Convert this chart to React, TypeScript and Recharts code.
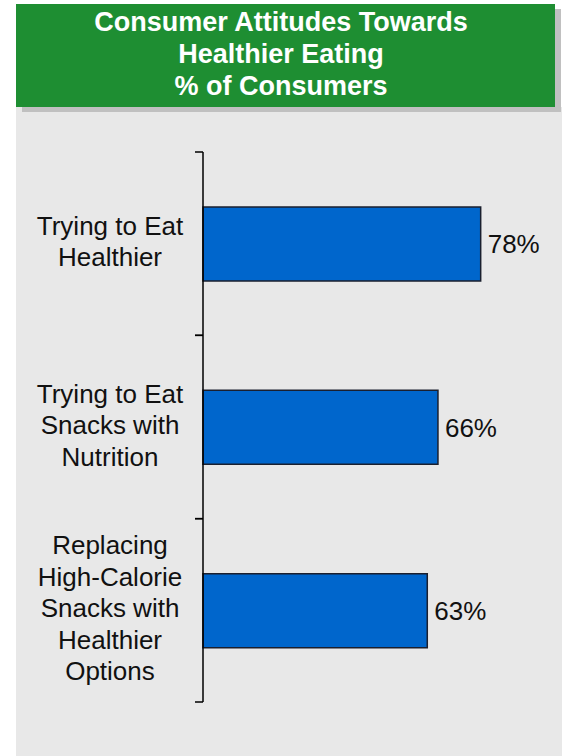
import { Bar, BarChart, LabelList, XAxis, YAxis } from "recharts";

const categories = [
  "Trying to Eat\nHealthier",
  "Trying to Eat\nSnacks with\nNutrition",
  "Replacing\nHigh-Calorie\nSnacks with\nHealthier\nOptions",
];
const shares = [78, 66, 63];
const titleLines = ["Consumer Attitudes Towards", "Healthier Eating", "% of Consumers"];

const data = categories.map((name, i) => ({ name, value: shares[i] }));

const PAGE_W = 562;
const PAGE_H = 756;
const MARGIN = { top: 152, right: 3, bottom: 54, left: 0 };
const AXIS_WIDTH = 203;
const AXIS_X = MARGIN.left + AXIS_WIDTH;
const PLOT_H = PAGE_H - MARGIN.top - MARGIN.bottom;
const BAND_HALF = PLOT_H / categories.length / 2;
const TICK_LEN = 8;
const LABEL_X = 110;
const LINE_H = 31.5;
const FONT = "'Liberation Sans', Arial, sans-serif";
const BAR_COLOR = "#0066cc";

function CategoryTick({ y, payload }: { y: number; payload: { value: string } }) {
  const lines = String(payload.value).split("\n");
  const firstDy = -((lines.length - 1) / 2) * LINE_H + 7;
  return (
    <g>
      <line x1={AXIS_X - TICK_LEN} x2={AXIS_X} y1={y - BAND_HALF} y2={y - BAND_HALF} stroke="#000" strokeWidth={1.5} />
      <line x1={AXIS_X - TICK_LEN} x2={AXIS_X} y1={y + BAND_HALF} y2={y + BAND_HALF} stroke="#000" strokeWidth={1.5} />
      <text x={LABEL_X} y={y} textAnchor="middle" fontSize={26} fill="#111" fontFamily={FONT}>
        {lines.map((line, i) => (
          <tspan key={i} x={LABEL_X} dy={i === 0 ? firstDy : LINE_H}>
            {line}
          </tspan>
        ))}
      </text>
    </g>
  );
}

export default function App() {
  return (
    <div style={{ position: "absolute", left: 0, top: 0, width: PAGE_W, height: PAGE_H, background: "#fff", overflow: "hidden" }}>
      <div style={{ position: "absolute", left: 16, top: 107, width: PAGE_W - 16, height: PAGE_H - 107, background: "#e8e8e8" }} />
      <div
        style={{
          position: "absolute",
          left: 16,
          top: 4,
          width: 539,
          height: 103,
          background: "#1e8e32",
          boxShadow: "6px 5px 0 #c0c0c0",
          color: "#fff",
          fontFamily: FONT,
          fontWeight: "bold",
          fontSize: 27,
          lineHeight: "32px",
          textAlign: "center",
          display: "flex",
          flexDirection: "column",
          justifyContent: "center",
          paddingRight: 9,
          paddingBottom: 4,
          boxSizing: "border-box",
        }}
      >
        {titleLines.map((t) => (
          <div key={t}>{t}</div>
        ))}
      </div>
      <div style={{ position: "absolute", left: 0, top: 0 }}>
        <BarChart width={PAGE_W} height={PAGE_H} data={data} layout="vertical" margin={MARGIN}>
          <XAxis type="number" domain={[0, 100]} hide />
          <YAxis
            type="category"
            dataKey="name"
            width={AXIS_WIDTH}
            interval={0}
            tickLine={false}
            axisLine={{ stroke: "#000", strokeWidth: 1.5 }}
            tick={CategoryTick}
          />
          <Bar dataKey="value" fill={BAR_COLOR} stroke="#1a1f2e" strokeWidth={1.5} barSize={74} isAnimationActive={false}>
            <LabelList
              dataKey="value"
              position="right"
              offset={7}
              formatter={(v: number) => `${v}%`}
              style={{ fontSize: 26, fill: "#111", fontFamily: FONT }}
            />
          </Bar>
        </BarChart>
      </div>
    </div>
  );
}
